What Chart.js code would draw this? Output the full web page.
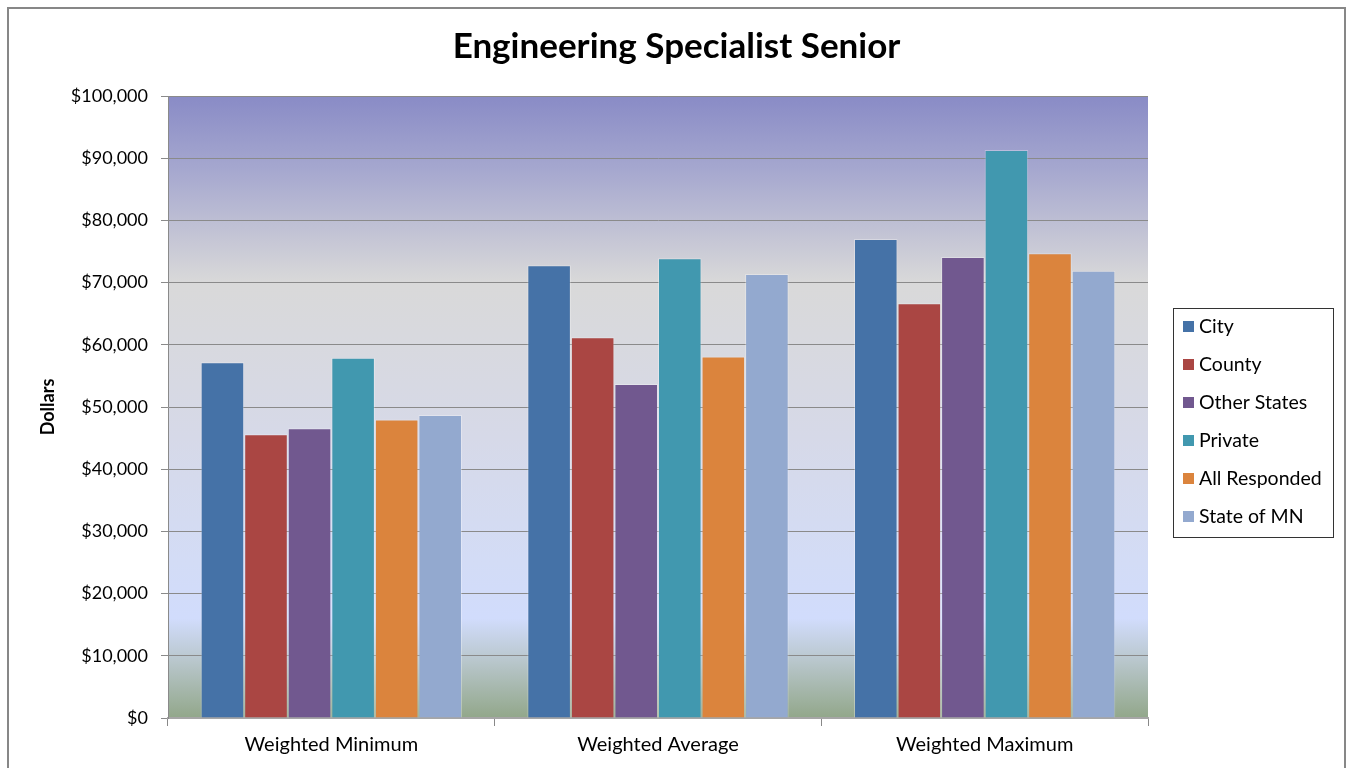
<!DOCTYPE html>
<html>
<head>
<meta charset="utf-8">
<title>Engineering Specialist Senior</title>
<script src="https://cdn.jsdelivr.net/npm/chart.js@4.4.1/dist/chart.umd.min.js"></script>
<style>
  html, body { margin: 0; padding: 0; background: #fff; overflow: hidden; }
  #frame {
    position: absolute; left: 7px; top: 7px;
    width: 1335px; height: 800px;
    border: 2px solid #878787;
  }
  #chart { display: block; }
</style>
</head>
<body>
<div id="frame">
  <canvas id="chart" width="1335" height="800"></canvas>
</div>
<script>
// salary survey numbers, one array per group
const categories = ['Weighted Minimum', 'Weighted Average', 'Weighted Maximum'];
const city         = [57200, 72800, 77000];
const county       = [45600, 61200, 66700];
const otherStates  = [46600, 53700, 74100];
const privateCos   = [57900, 73900, 91300];
const allResponded = [48000, 58100, 74700];
const stateOfMN    = [48700, 71400, 71900];
const yTicks = [0, 10000, 20000, 30000, 40000, 50000, 60000, 70000, 80000, 90000, 100000];

const FONT = 'Lato, "Open Sans", sans-serif';

function money(v){
    return '$' + v.toLocaleString('en-US');
}

// gradient behind the bars
const plotBackground = {
    id: 'plotBackground',
    beforeDraw(chart){
        const a = chart.chartArea;
        const ctx = chart.ctx;
        const g = ctx.createLinearGradient(0, a.top, 0, a.bottom);
        g.addColorStop(0.00, '#898bc6');
        g.addColorStop(0.12, '#a6a8cf');
        g.addColorStop(0.30, '#d9d9d9');
        g.addColorStop(0.55, '#d6d9e8');
        g.addColorStop(0.75, '#d3dcf6');
        g.addColorStop(0.84, '#d1dcfc');
        g.addColorStop(0.91, '#b8c6cb');
        g.addColorStop(1.00, '#92a78a');
        ctx.save();
        ctx.fillStyle = g;
        ctx.fillRect(a.left, a.top, a.right - a.left, a.bottom - a.top);
        ctx.restore();
    }
};

// boxed legend on the right
const boxLegend = {
    id: 'boxLegend',
    afterDraw(chart){
        const ctx = chart.ctx;
        const x = 1164, y = 299, w = 160, h = 229;
        ctx.save();
        ctx.fillStyle = '#fff';
        ctx.fillRect(x, y, w, h);
        ctx.strokeStyle = '#333';
        ctx.lineWidth = 1;
        ctx.strokeRect(x + 0.5, y + 0.5, w, h);
        ctx.font = '19.5px ' + FONT;
        ctx.textBaseline = 'middle';
        chart.data.datasets.forEach(function(ds, i){
            const cy = y + 19 + i * 38;
            ctx.fillStyle = ds.backgroundColor;
            ctx.fillRect(x + 10, cy - 6, 11, 11);
            ctx.fillStyle = '#000';
            ctx.fillText(ds.label, x + 26, cy);
        });
        ctx.restore();
    }
};

function series(label, data, color){
    return {
        label: label,
        data: data,
        backgroundColor: color,
        borderColor: 'rgba(255,255,255,0.3)',
        borderWidth: 1,
        categoryPercentage: 0.8,
        barPercentage: 1.0
    };
}

new Chart(document.getElementById('chart'), {
    type: 'bar',
    data: {
        labels: categories,
        datasets: [
            series('City', city, '#4572a7'),
            series('County', county, '#aa4643'),
            series('Other States', otherStates, '#71588f'),
            series('Private', privateCos, '#4198af'),
            series('All Responded', allResponded, '#db843d'),
            series('State of MN', stateOfMN, '#93a9cf')
        ]
    },
    options: {
        responsive: false,
        animation: false,
        layout: { padding: 0 },
        plugins: {
            legend: { display: false },
            tooltip: { enabled: false },
            title: {
                display: true,
                text: 'Engineering Specialist Senior',
                color: '#000',
                font: { family: FONT, size: 35, weight: 'bold' },
                padding: { top: 17, bottom: 28 }
            }
        },
        scales: {
            x: {
                grid: {
                    display: true,
                    drawOnChartArea: false,
                    drawTicks: true,
                    tickLength: 8,
                    color: '#888'
                },
                border: { display: true, color: '#a6a6a6', width: 2 },
                ticks: {
                    color: '#000',
                    padding: 7,
                    font: { family: FONT, size: 20 }
                },
                afterFit(scale){ scale.height = 91; }
            },
            y: {
                min: 0,
                max: 100000,
                afterBuildTicks(scale){
                    scale.ticks = yTicks.map(v => ({ value: v }));
                },
                grid: {
                    color: '#8a8a8a',
                    lineWidth: 1,
                    drawTicks: true,
                    tickLength: 7
                },
                border: { display: true, color: '#8a8a8a', width: 1 },
                ticks: {
                    color: '#000',
                    padding: 13,
                    font: { family: FONT, size: 18 },
                    callback: v => money(v)
                },
                title: {
                    display: true,
                    text: 'Dollars',
                    color: '#000',
                    font: { family: FONT, size: 18, weight: 'bold' },
                    padding: { top: 28, bottom: 0 }
                },
                afterFit(scale){ scale.width = 159; }
            },
            // empty strip on the right that leaves room for the legend box
            side: {
                type: 'linear',
                position: 'right',
                grid: { display: false },
                border: { display: false },
                ticks: { display: false },
                afterFit(scale){ scale.width = 196; }
            }
        }
    },
    plugins: [plotBackground, boxLegend]
});
</script>
</body>
</html>
